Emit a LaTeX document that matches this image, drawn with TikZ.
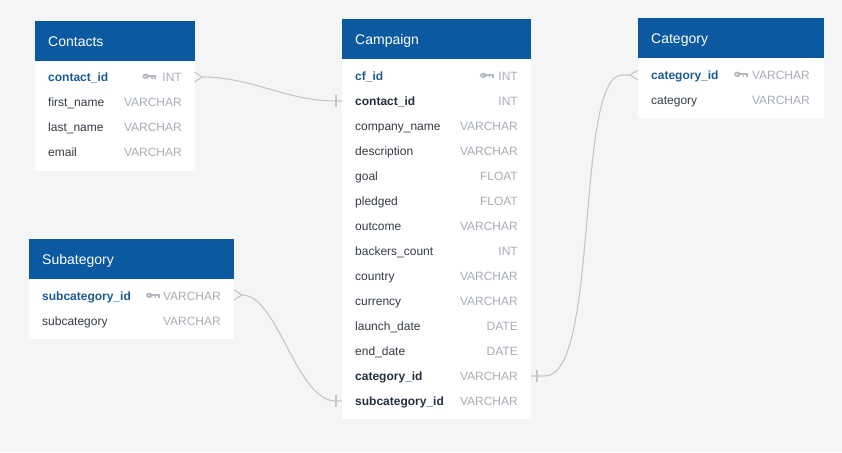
\documentclass[tikz,border=0pt]{standalone}
\usepackage{fontspec}
\setmainfont{Liberation Sans}
\definecolor{bgc}{HTML}{F4F6F5}
\definecolor{hdr}{HTML}{0B5AA1}
\definecolor{pkc}{HTML}{1B5B93}
\definecolor{fkc}{HTML}{253140}
\definecolor{txc}{HTML}{343B45}
\definecolor{tyc}{HTML}{A8AEB6}
\definecolor{keyc}{HTML}{B4B9BF}
\definecolor{lnc}{HTML}{C6C6C6}
\newcommand\fieldrow[7]{%
  \node[#5, anchor=base west] (#1n) at (#2,#4) {#6};
  \node[typetext, anchor=base east] (#1t) at (#3,#4) {#7};
}
\newcommand\pkkey[2]{% #1 right x, #2 center y
  \fill[keyc] (#1-10.3,#2) ellipse [x radius=3.3, y radius=2.7];
  \fill[white] (#1-11,#2) circle (0.8);
  \fill[keyc] (#1-8,#2-1.4) rectangle (#1,#2+0.9);
  \fill[keyc] (#1-4.6,#2+0.9) rectangle (#1-3.1,#2+2.6);
  \fill[keyc] (#1-1.7,#2+0.9) rectangle (#1,#2+2.6);
}
\begin{document}
\begin{tikzpicture}[x=1pt,y=-1pt,
  tablebox/.style={fill=white, draw=none, inner sep=0, anchor=north west},
  header/.style={fill=hdr, draw=none, inner sep=0, anchor=north west},
  title/.style={text=white, font=\fontsize{14}{16}\selectfont, inner sep=0, anchor=base west},
  pkname/.style={text=pkc, font=\fontsize{12}{14}\selectfont\bfseries, inner sep=0},
  fkname/.style={text=fkc, font=\fontsize{12}{14}\selectfont\bfseries, inner sep=0},
  plain/.style={text=txc, font=\fontsize{12}{14}\selectfont, inner sep=0},
  typetext/.style={text=tyc, font=\fontsize{12}{14}\selectfont, inner sep=0},
  conn/.style={draw=lnc, line width=1.1pt},
]
\fill[bgc] (0,0) rectangle (842,452);
\useasboundingbox (0,0) rectangle (842,452);

% ---------- Contacts ----------
\node[tablebox, minimum width=159.5pt, minimum height=150pt] (contacts) at (35,21) {};
\node[header, minimum width=159.5pt, minimum height=40pt] (contactsH) at (35,21) {};
\node[title] (contactsT) at (48,46.3) {Contacts};
\fieldrow{ct1}{48}{182}{81}{pkname}{contact\_id}{INT}
\fieldrow{ct2}{48}{182}{106}{plain}{first\_name}{VARCHAR}
\fieldrow{ct3}{48}{182}{131}{plain}{last\_name}{VARCHAR}
\fieldrow{ct4}{48}{182}{156}{plain}{email}{VARCHAR}
\pkkey{156}{76.3}

% ---------- Campaign ----------
\node[tablebox, minimum width=189pt, minimum height=400pt] (campaign) at (342,19) {};
\node[header, minimum width=189pt, minimum height=40pt] (campaignH) at (342,19) {};
\node[title] (campaignT) at (355,44.3) {Campaign};
\fieldrow{cp1}{355}{518}{80}{pkname}{cf\_id}{INT}
\fieldrow{cp2}{355}{518}{105}{fkname}{contact\_id}{INT}
\fieldrow{cp3}{355}{518}{130}{plain}{company\_name}{VARCHAR}
\fieldrow{cp4}{355}{518}{155}{plain}{description}{VARCHAR}
\fieldrow{cp5}{355}{518}{180}{plain}{goal}{FLOAT}
\fieldrow{cp6}{355}{518}{205}{plain}{pledged}{FLOAT}
\fieldrow{cp7}{355}{518}{230}{plain}{outcome}{VARCHAR}
\fieldrow{cp8}{355}{518}{255}{plain}{backers\_count}{INT}
\fieldrow{cp9}{355}{518}{280}{plain}{country}{VARCHAR}
\fieldrow{cp10}{355}{518}{305}{plain}{currency}{VARCHAR}
\fieldrow{cp11}{355}{518}{330}{plain}{launch\_date}{DATE}
\fieldrow{cp12}{355}{518}{355}{plain}{end\_date}{DATE}
\fieldrow{cp13}{355}{518}{380}{fkname}{category\_id}{VARCHAR}
\fieldrow{cp14}{355}{518}{405}{fkname}{subcategory\_id}{VARCHAR}
\pkkey{493.5}{75.3}

% ---------- Category ----------
\node[tablebox, minimum width=186pt, minimum height=100pt] (category) at (638,18) {};
\node[header, minimum width=186pt, minimum height=40pt] (categoryH) at (638,18) {};
\node[title] (categoryT) at (651,43.3) {Category};
\fieldrow{cg1}{651}{810}{79}{pkname}{category\_id}{VARCHAR}
\fieldrow{cg2}{651}{810}{104}{plain}{category}{VARCHAR}
\pkkey{747.5}{74.3}

% ---------- Subategory ----------
\node[tablebox, minimum width=205pt, minimum height=100pt] (subcat) at (29,239) {};
\node[header, minimum width=205pt, minimum height=40pt] (subcatH) at (29,239) {};
\node[title] (subcatT) at (42,264.3) {Subategory};
\fieldrow{sc1}{42}{221}{300}{pkname}{subcategory\_id}{VARCHAR}
\fieldrow{sc2}{42}{221}{325}{plain}{subcategory}{VARCHAR}
\pkkey{159.5}{295.3}

% ---------- connector end points ----------
\coordinate (ctA) at (194.5,77);
\coordinate (ctB) at (202,77);
\coordinate (cpA) at (342,101);
\coordinate (cpB) at (336,101);
\coordinate (cpC) at (531,376);
\coordinate (cpD) at (545,376);
\coordinate (cpE) at (342,401);
\coordinate (cpF) at (336,401);
\coordinate (cgA) at (638,75);
\coordinate (cgB) at (630,75);
\coordinate (scA) at (234,295);
\coordinate (scB) at (242,295);

% Contacts -> Campaign
\draw[conn] ([yshift=-5pt]ctA) -- (ctB) -- ([yshift=5pt]ctA);
\draw[conn] (ctB) .. controls (252,77) and (286,101) .. (cpB) -- (cpA);
\draw[conn] ([yshift=-6pt]cpB) -- ([yshift=6pt]cpB);

% Category -> Campaign
\draw[conn] ([yshift=-5pt]cgA) -- (cgB) -- ([yshift=5pt]cgA);
\draw[conn] (cpC) -- (cpD) .. controls (600,376) and (575,75) .. (622,75) -- (cgB);
\draw[conn] ([xshift=6pt,yshift=-6pt]cpC) -- ([xshift=6pt,yshift=6pt]cpC);

% Subategory -> Campaign
\draw[conn] ([yshift=-5pt]scA) -- (scB) -- ([yshift=5pt]scA);
\draw[conn] (scB) .. controls (278,295) and (296,401) .. (cpF) -- (cpE);
\draw[conn] ([yshift=-6pt]cpF) -- ([yshift=6pt]cpF);
\end{tikzpicture}
\end{document}
